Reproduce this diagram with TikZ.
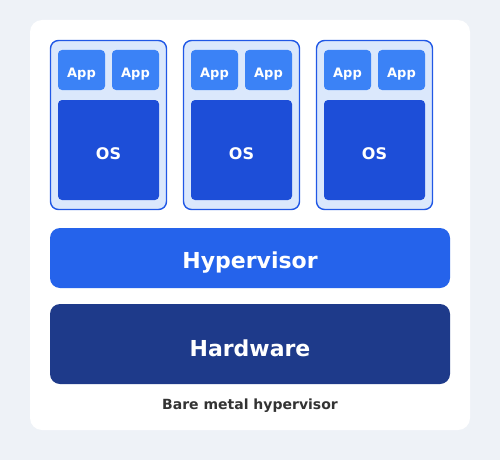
\documentclass[tikz,border=0pt]{standalone}
\usepackage{fontspec}
\setmainfont{DejaVu Sans}
\usepackage{tikz}
\usetikzlibrary{positioning}
\definecolor{pagebg}{HTML}{EEF2F7}
\definecolor{vmfill}{HTML}{DBE8FC}
\definecolor{vmline}{HTML}{2158E6}
\definecolor{appblue}{HTML}{3B82F6}
\definecolor{osblue}{HTML}{1D4ED8}
\definecolor{hypblue}{HTML}{2563EB}
\definecolor{hwblue}{HTML}{1E3A8A}
\definecolor{captext}{HTML}{333333}

\begin{document}
\begin{tikzpicture}[x=1pt,y=-1pt,
card/.style={fill=white,rounded corners=12pt,minimum width=440pt,minimum height=410pt,inner sep=0pt},
vm/.style={draw=vmline,line width=1.4pt,fill=vmfill,rounded corners=8pt,minimum width=116pt,minimum height=169pt,inner sep=0pt},
app/.style={fill=appblue,rounded corners=4pt,minimum width=47pt,minimum height=40pt,inner sep=0pt,text=white,text height=18.4pt,text depth=3pt,font=\bfseries\fontsize{13}{15}\selectfont},
os/.style={fill=osblue,rounded corners=4pt,minimum width=101pt,minimum height=100pt,inner sep=0pt,text=white,text height=18pt,text depth=0pt,font=\bfseries\fontsize{16}{19}\selectfont},
layer/.style={rounded corners=10pt,minimum width=400pt,inner sep=0pt,text=white,font=\bfseries\fontsize{22}{26}\selectfont}]
\useasboundingbox (0,0) rectangle (500,460);
\fill[pagebg] (0,0) rectangle (500,460);
\node[card] (card) at (250,225) {};
% three guests
\foreach \i/\x in {1/108.5,2/241.5,3/374.5}{
  \node[vm] (vm\i) at (\x,125) {};
  \node[app] (app\i l) at (\x-27,70) {App};
  \node[app] (app\i r) at (\x+27,70) {App};
  \node[os] (os\i) at (\x,150) {OS};
}
\node[layer,fill=hypblue,minimum height=60pt,text height=25.6pt,text depth=5pt] (hyp) at (250,258) {Hypervisor};
\node[layer,fill=hwblue,minimum height=80pt,text height=24pt,text depth=0pt] (hw) at (250,344) {Hardware};
\node[anchor=base,text=captext,font=\bfseries\fontsize{14}{16}\selectfont] (cap) at (250,409) {Bare metal hypervisor};
\end{tikzpicture}
\end{document}
